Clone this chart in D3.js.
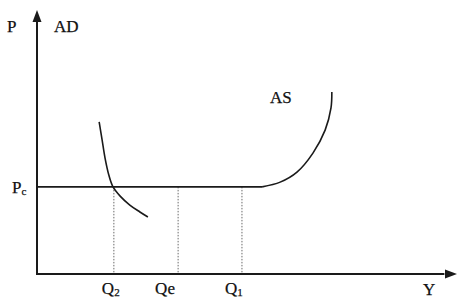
<!DOCTYPE html>
<html><head><meta charset="utf-8">
<script src="https://cdn.jsdelivr.net/npm/d3@7"></script>
<style>body{margin:0;background:#fff}svg{display:block}text{font-family:"Liberation Serif","Times New Roman",serif;fill:#111;stroke:#111;stroke-width:0.25}</style>
</head><body><svg id="c" width="459" height="301"></svg>
<script>
const qLabels = ["Q2", "Qe", "Q1"];
const qValues = [18.3, 33.6, 48.8];
const pcValue = 33.0;
const flatEnd = 53.6;
const asCurve = [[53.6,33.0],[57.9,34.8],[61.9,38.6],[65.7,45.8],[68.6,54.5],[70.0,62.9],[70.2,68.9]];
const adCurve = [[14.8,57.6],[15.5,50.8],[16.2,43.9],[17.1,37.5],[18.1,33.0],[19.8,29.5],[22.1,26.1],[24.5,23.5],[26.4,21.6]];

const svg = d3.select("#c");
const x = d3.scaleLinear().domain([0,100]).range([37,457]);
const y = d3.scaleLinear().domain([0,100]).range([274,10]);
const ink = "#1a1a1a";

// axes
svg.append("line").attr("x1",x(0)).attr("x2",x(0)).attr("y1",y(0)+1).attr("y2",y(97)).attr("stroke",ink).attr("stroke-width",2);
svg.append("line").attr("x1",x(0)).attr("x2",x(97)).attr("y1",y(0)).attr("y2",y(0)).attr("stroke",ink).attr("stroke-width",2);
svg.append("path").attr("d",`M${x(0)},${y(100)} L${x(0)-4.5},${y(100)+12} L${x(0)+4.5},${y(100)+12} Z`).attr("fill",ink);
svg.append("path").attr("d",`M${x(100)},${y(0)} L${x(100)-12},${y(0)-4.5} L${x(100)-12},${y(0)+4.5} Z`).attr("fill",ink);

// dotted verticals
qValues.forEach(q=>{
  svg.append("line").attr("x1",x(q)).attr("x2",x(q)).attr("y1",y(pcValue)).attr("y2",y(0))
    .attr("stroke","#444").attr("stroke-width",0.8).attr("stroke-dasharray","1.5,1.5");
});

// Pc horizontal
svg.append("line").attr("x1",x(0)).attr("x2",x(flatEnd)).attr("y1",y(pcValue)).attr("y2",y(pcValue)).attr("stroke",ink).attr("stroke-width",1.6);

const line = d3.line().x(d=>x(d[0])).y(d=>y(d[1])).curve(d3.curveCatmullRom);
svg.append("path").attr("d",line(asCurve)).attr("fill","none").attr("stroke",ink).attr("stroke-width",1.6);
svg.append("path").attr("d",line(adCurve)).attr("fill","none").attr("stroke",ink).attr("stroke-width",1.6);

// labels
const fs = 17;
svg.append("text").attr("x",7).attr("y",32).attr("font-size",fs).text("P");
svg.append("text").attr("x",54).attr("y",32).attr("font-size",fs).text("AD");
svg.append("text").attr("x",270).attr("y",103).attr("font-size",fs).text("AS");
const pc = svg.append("text").attr("x",12).attr("y",193).attr("font-size",fs);
pc.append("tspan").text("P");
pc.append("tspan").attr("font-size",11).attr("dy",2).text("c");
const sub = {"Q2":["Q","2"],"Qe":["Qe",""],"Q1":["Q","1"]};
const labelShift = [-12, -23, -17];
qLabels.forEach((l,i)=>{
  const t = svg.append("text").attr("x",x(qValues[i]) + labelShift[i]).attr("y",294).attr("font-size",fs);
  t.append("tspan").text(sub[l][0]);
  if (sub[l][1]) t.append("tspan").attr("font-size",11).attr("dy",1.5).text(sub[l][1]);
});
svg.append("text").attr("x",423).attr("y",295).attr("font-size",fs).text("Y");
</script></body></html>
